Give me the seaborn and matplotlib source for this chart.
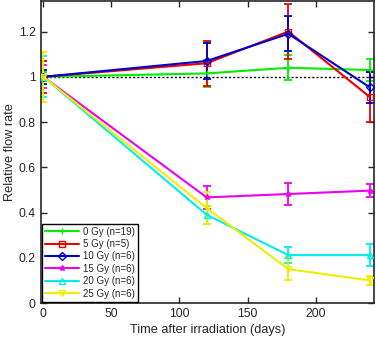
import numpy as np
import pandas as pd
import matplotlib
matplotlib.use("Agg")
import matplotlib.pyplot as plt
import seaborn as sns

days = [0, 120, 180, 240]
labels = ["0 Gy (n=19)", "5 Gy (n=5)", "10 Gy (n=6)", "15 Gy (n=6)", "20 Gy (n=6)", "25 Gy (n=6)"]
gy0 = [1.0, 1.015, 1.04, 1.03]
gy5 = [1.0, 1.06, 1.20, 0.91]
gy10 = [1.0, 1.07, 1.19, 0.953]
gy15 = [1.0, 0.467, 0.482, 0.497]
gy20 = [1.0, 0.39, 0.212, 0.212]
gy25 = [1.0, 0.42, 0.15, 0.10]
err0 = [0.02, 0.06, 0.055, 0.05]
err5 = [0.07, 0.10, 0.12, 0.11]
err10 = [0.03, 0.08, 0.077, 0.07]
err15 = [0.05, 0.05, 0.05, 0.03]
err20 = [0.09, 0.04, 0.035, 0.05]
err25 = [0.11, 0.07, 0.05, 0.02]

values = [gy0, gy5, gy10, gy15, gy20, gy25]
errors = [err0, err5, err10, err15, err20, err25]
colors = ["#00ee00", "#ee0000", "#0000cc", "#ee00ee", "#00eeee", "#eeee00"]
markers = ["+", "s", "D", "*", "^", "v"]

rows = []
for lab, v, e in zip(labels, values, errors):
    for d, vv, ee in zip(days, v, e):
        rows.append({"day": d, "rate": vv, "err": ee, "group": lab})
df = pd.DataFrame(rows)

sns.set_style("ticks")
plt.rcParams['font.family'] = ['Liberation Sans', 'DejaVu Sans']

fig = plt.figure(figsize=(3.76, 3.39), dpi=100)
ax = fig.add_axes([0.108, 0.106, 0.887, 0.891])

ax.axhline(1.0, color="black", linestyle=(0, (1.5, 1.5)), linewidth=1.0, zorder=1)

for lab, col, mk in zip(labels, colors, markers):
    sub = df[df["group"] == lab]
    ax.errorbar(sub["day"], sub["rate"], yerr=sub["err"], fmt="none",
                ecolor=col, elinewidth=1.3, capsize=3, capthick=1.3, zorder=2)
    sns.lineplot(data=sub, x="day", y="rate", color=col, marker=mk, label=lab,
                 linewidth=1.5, markersize=4, markerfacecolor="none",
                 markeredgecolor=col, markeredgewidth=1.0, ax=ax, zorder=3)

ax.set_xlim(-2, 243)
ax.set_ylim(0, 1.335)
ax.set_xticks([0, 50, 100, 150, 200])
ax.set_yticks([0, 0.2, 0.4, 0.6, 0.8, 1.0, 1.2])
ax.set_yticklabels(["0", "0.2", "0.4", "0.6", "0.8", "1", "1.2"])
ax.tick_params(direction="in", top=True, right=True, labelsize=8.8, length=4, width=1)
for s in ax.spines.values():
    s.set_linewidth(1.2)
    s.set_visible(True)
ax.set_xlabel("Time after irradiation (days)", fontsize=9.2, labelpad=3)
ax.set_ylabel("Relative flow rate", fontsize=9.2, labelpad=2)

leg = ax.legend(loc="lower left", fontsize=7, frameon=True, fancybox=False,
                edgecolor="black", handlelength=3.5, handletextpad=0.4,
                borderaxespad=0.15, labelspacing=0.25, borderpad=0.3)
leg.get_frame().set_linewidth(1.0)
leg.get_frame().set_alpha(1)

fig.savefig("out.png", dpi=100)
